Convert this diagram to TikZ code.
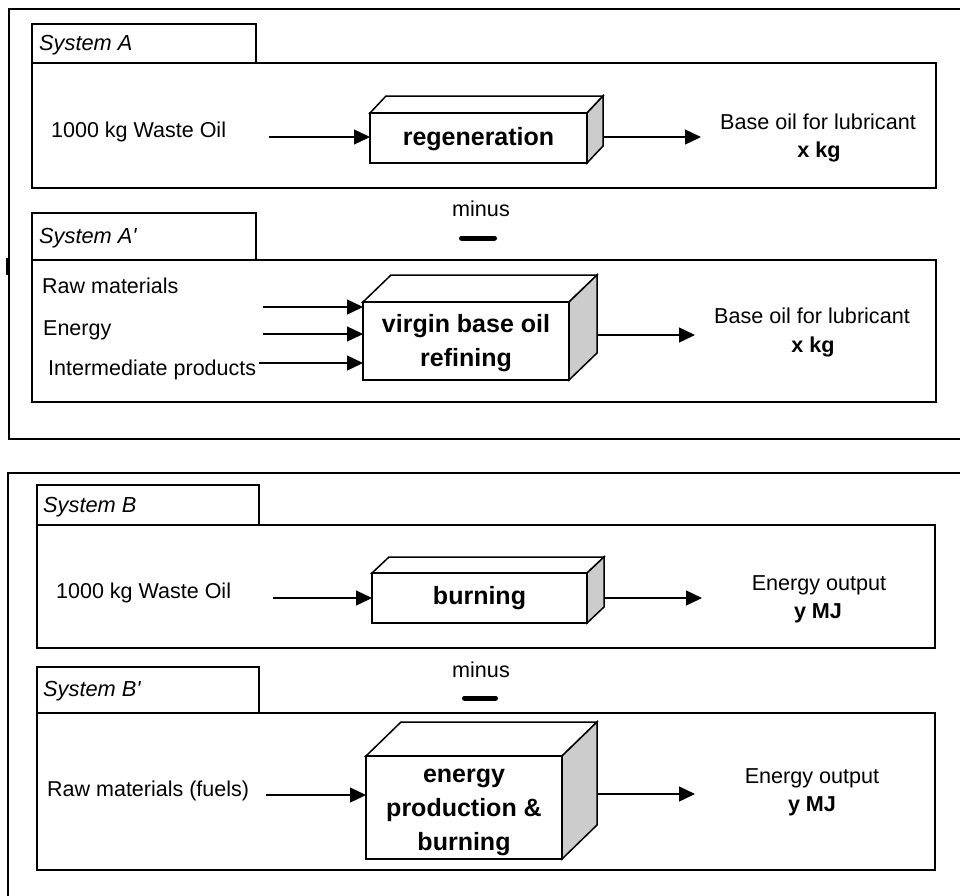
\documentclass[tikz,border=0pt]{standalone}
\usepackage{fontspec}
\setmainfont{Liberation Sans}
\usetikzlibrary{arrows.meta}
\definecolor{sidegray}{RGB}{204,204,204}
\tikzset{
  frameline/.style={line width=1.5pt},
  sysbox/.style={draw, line width=1.5pt, inner sep=0pt, outer sep=0pt, anchor=north west},
  boxline/.style={line width=1.5pt, line join=miter},
  face/.style={draw, line width=1.5pt, fill=white, inner sep=0pt, outer sep=0pt, anchor=north west},
  boxtext/.style={inner sep=0pt, align=center, font=\fontsize{25}{34}\selectfont\bfseries},
  lbl/.style={inner sep=0pt, anchor=base west, font=\fontsize{21.5}{25}\selectfont},
  tablbl/.style={inner sep=0pt, anchor=base west, font=\fontsize{21.8}{25}\selectfont\itshape},
  outlbl/.style={inner sep=0pt, anchor=base, font=\fontsize{21.6}{25}\selectfont},
  outbold/.style={inner sep=0pt, anchor=base, font=\fontsize{21.6}{25}\selectfont\bfseries},
  arr/.style={line width=1.3pt, -{Triangle[length=16pt,width=15pt]}},
  minusbar/.style={line width=5pt, line cap=round},
}
% #1 name, #2 x1, #3 y1, #4 x2, #5 y2, #6 dx, #7 dy, #8 text, #9 text shift down
\newcommand\procbox[9]{%
  \draw[boxline, fill=white] (#2,#3) -- ({#2+#6},{#3-#7}) -- ({#4+#6},{#3-#7}) -- (#4,#3) -- cycle;
  \draw[boxline, fill=sidegray] (#4,#3) -- ({#4+#6},{#3-#7}) -- ({#4+#6},{#5-#7}) -- (#4,#5) -- cycle;
  \node[face, minimum width={(#4-#2)*1pt}, minimum height={(#5-#3)*1pt}] (#1) at (#2,#3) {};
  \node[boxtext] (#1t) at ([yshift=-#9pt]#1.center) {#8};
}
\begin{document}
\begin{tikzpicture}[x=1pt,y=-1pt]
\useasboundingbox (0,0) rectangle (960,895);
\fill[white] (0,0) rectangle (960,895);

% outer frames
\draw[frameline] (963,9) -- (9,9) -- (9,439) -- (963,439);
\draw[frameline] (963,473) -- (8,473) -- (8,898);
\draw[line width=2pt] (7,258) -- (7,275);

% ---------------- System A ----------------
\node[sysbox, minimum width=224pt, minimum height=39pt] (tabA) at (32,24) {};
\node[sysbox, minimum width=904pt, minimum height=125pt] (sysA) at (32,63) {};
\node[tablbl] (tabAt) at (39,50) {System A};
\node[lbl] (wasteA) at (51,137) {1000 kg Waste Oil};
\procbox{regen}{370}{113}{587}{163}{16}{17}{regeneration}{1.5}
\coordinate (inA) at (269,137);
\draw[arr] (inA) -- (inA -| regen.west);
\coordinate (oA) at (603,137);
\coordinate (tA) at (701,137);
\draw[arr] (oA) -- (tA);
\node[outlbl] (outA1) at (818,129) {Base oil for lubricant};
\node[outbold] (outA2) at (819,157) {x kg};

% minus
\node[outlbl] (minusA) at (481,216) {minus};
\coordinate (mA1) at (461.5,238);
\coordinate (mA2) at (494.5,238);
\draw[minusbar] (mA1) -- (mA2);

% ---------------- System A' ----------------
\node[sysbox, minimum width=224pt, minimum height=47pt] (tabAp) at (32,213) {};
\node[sysbox, minimum width=904pt, minimum height=142pt] (sysAp) at (32,260) {};
\node[tablbl] (tabApt) at (39,243) {System A\textquotesingle};
\node[lbl] (rawA) at (42,293) {Raw materials};
\node[lbl] (enA) at (43,335) {Energy};
\node[lbl] (intA) at (48,375) {Intermediate products};
\procbox{virgin}{363}{302}{569}{380}{28}{27}{virgin base oil\\refining}{2.5}
\coordinate (in1) at (263,307);
\coordinate (in2) at (263,334);
\coordinate (in3) at (259,363);
\draw[arr] (in1) -- (in1 -| virgin.west);
\draw[arr] (in2) -- (in2 -| virgin.west);
\draw[arr] (in3) -- (in3 -| virgin.west);
\coordinate (oAp) at (597,335);
\coordinate (tAp) at (695,335);
\draw[arr] (oAp) -- (tAp);
\node[outlbl] (outAp1) at (812,323) {Base oil for lubricant};
\node[outbold] (outAp2) at (813,352) {x kg};

% ---------------- System B ----------------
\node[sysbox, minimum width=222pt, minimum height=40pt] (tabB) at (37,485) {};
\node[sysbox, minimum width=898pt, minimum height=123pt] (sysB) at (37,525) {};
\node[tablbl] (tabBt) at (43,512) {System B};
\node[lbl] (wasteB) at (56,598) {1000 kg Waste Oil};
\procbox{burn}{372}{573}{587}{623}{17}{16}{burning}{0.5}
\coordinate (inB) at (273,598);
\draw[arr] (inB) -- (inB -| burn.west);
\coordinate (oB) at (604,598);
\coordinate (tB) at (702,598);
\draw[arr] (oB) -- (tB);
\node[outlbl] (outB1) at (819,590) {Energy output};
\node[outbold] (outB2) at (818,618) {y MJ};

% minus
\node[outlbl] (minusB) at (481,677) {minus};
\coordinate (mB1) at (464.5,698);
\coordinate (mB2) at (495.5,698);
\draw[minusbar] (mB1) -- (mB2);

% ---------------- System B' ----------------
\node[sysbox, minimum width=222pt, minimum height=46pt] (tabBp) at (37,667) {};
\node[sysbox, minimum width=898pt, minimum height=157pt] (sysBp) at (37,713) {};
\node[tablbl] (tabBpt) at (43,696) {System B\textquotesingle};
\node[lbl] (rawB) at (47,796) {Raw materials (fuels)};
\procbox{energy}{366}{756}{562}{859}{35}{34}{energy\\production \&\\burning}{4.7}
\coordinate (inBp) at (266,795);
\draw[arr] (inBp) -- (inBp -| energy.west);
\coordinate (oBp) at (597,794);
\coordinate (tBp) at (695,794);
\draw[arr] (oBp) -- (tBp);
\node[outlbl] (outBp1) at (812,783) {Energy output};
\node[outbold] (outBp2) at (812,811) {y MJ};
\end{tikzpicture}
\end{document}
